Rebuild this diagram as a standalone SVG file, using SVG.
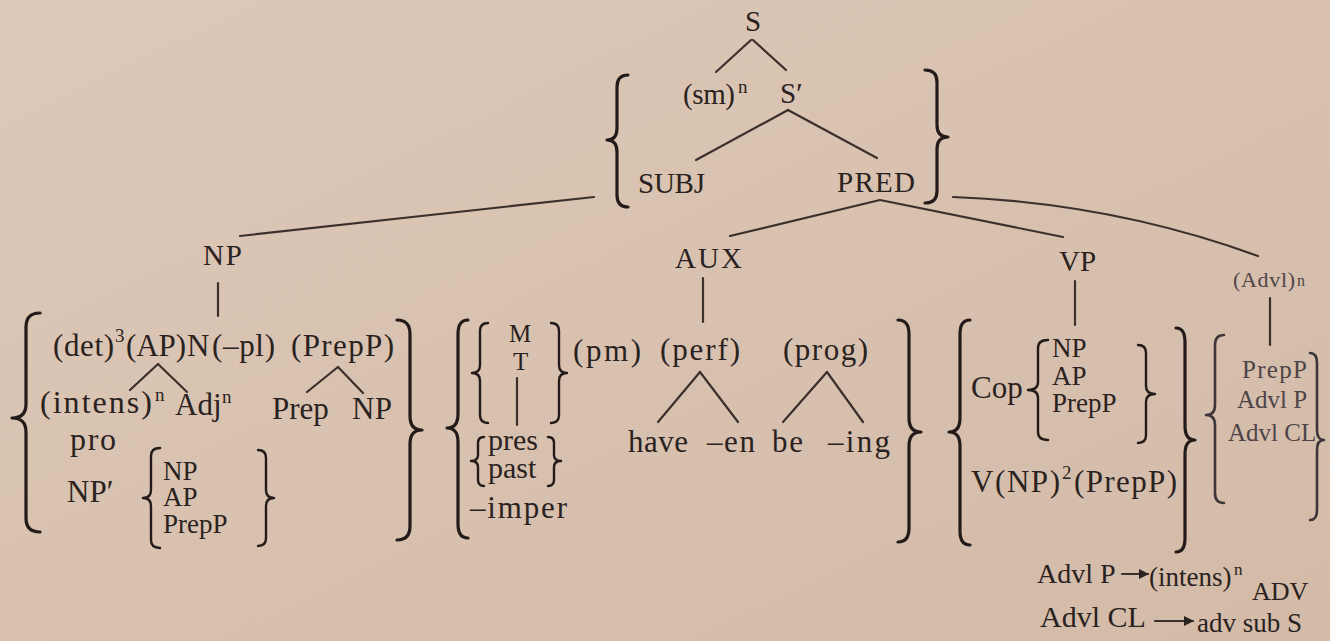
<svg xmlns="http://www.w3.org/2000/svg" width="1330" height="641" viewBox="0 0 1330 641" font-family="'Liberation Serif', 'Times New Roman', 'DejaVu Serif', serif">
<defs>
<linearGradient id="paper" x1="0" y1="0" x2="1" y2="1">
<stop offset="0" stop-color="#ddc9b9"/>
<stop offset="0.5" stop-color="#d8c1af"/>
<stop offset="1" stop-color="#d3bba8"/>
</linearGradient>
<marker id="arr" viewBox="0 0 10 10" refX="9" refY="5" markerWidth="10" markerHeight="10" markerUnits="userSpaceOnUse" orient="auto">
<path d="M0,0 L10,5 L0,10 z" fill="#2a2220"/>
</marker>
<style>
text{font-family:'Liberation Serif','Times New Roman','DejaVu Serif',serif;fill:#2a2220;font-size:31px}
.lab{font-size:29px}
.sup{font-size:19px}
.sm{font-size:25px}
.stk{font-size:27px}
.adv{font-size:25px;fill:#4e4448}
.rule{font-size:28px}
.ln{stroke:#3b302c;stroke-width:2.2;fill:none;stroke-linecap:round}
.br{stroke:#231b19;stroke-width:3.2;fill:none;stroke-linecap:round;stroke-linejoin:round}
.brs{stroke:#231b19;stroke-width:2.4;fill:none;stroke-linecap:round;stroke-linejoin:round}
.bra{stroke:#3e3538;stroke-width:2.6;fill:none;stroke-linecap:round;stroke-linejoin:round}
</style>
</defs>
<rect x="0" y="0" width="1330" height="641" fill="url(#paper)"/>

<g id="connectors">
<line class="ln" x1="751" y1="40" x2="716" y2="72"/>
<line class="ln" x1="753" y1="40" x2="786" y2="70"/>
<line class="ln" x1="788" y1="110" x2="696" y2="160"/>
<line class="ln" x1="788" y1="110" x2="877" y2="158"/>
<line class="ln" x1="594" y1="197" x2="240" y2="236"/>
<line class="ln" x1="880" y1="200" x2="730" y2="236"/>
<line class="ln" x1="880" y1="200" x2="1063" y2="237"/>
<path class="ln" d="M953,197 Q1113,203 1258,256"/>
<line class="ln" x1="218" y1="283" x2="218" y2="316"/>
<line class="ln" x1="703" y1="278" x2="703" y2="322"/>
<line class="ln" x1="1075" y1="281" x2="1075" y2="325"/>
<line class="ln" x1="1270" y1="298" x2="1270" y2="345" stroke="#5a5054"/>
<line class="ln" x1="158" y1="364" x2="130" y2="390"/>
<line class="ln" x1="158" y1="364" x2="187" y2="392"/>
<line class="ln" x1="338" y1="367" x2="307" y2="392"/>
<line class="ln" x1="338" y1="367" x2="363" y2="393"/>
<line class="ln" x1="517" y1="378" x2="517" y2="425"/>
<line class="ln" x1="700" y1="372" x2="658" y2="422"/>
<line class="ln" x1="700" y1="372" x2="738" y2="422"/>
<line class="ln" x1="827" y1="372" x2="783" y2="422"/>
<line class="ln" x1="827" y1="372" x2="863" y2="422"/>
<line class="ln" x1="1122" y1="574" x2="1148" y2="574" marker-end="url(#arr)"/>
<line class="ln" x1="1155" y1="621" x2="1193" y2="621" marker-end="url(#arr)"/>
</g>

<g id="node-S"><text class="lab" x="745" y="31">S</text></g>
<g id="node-sm"><text class="lab" x="683" y="104" textLength="52" lengthAdjust="spacing">(sm)</text><text class="sup" x="738" y="93">n</text></g>
<g id="node-Sprime"><text class="lab" x="780" y="103">S′</text></g>
<g id="node-SUBJ-PRED">
<path class="br" d="M628,75 Q617,75 617,87 L617,128 Q617,140 607,140 Q617,140 617,152 L617,195 Q617,207 628,207"/>
<path class="br" d="M925,70 Q937,70 937,82 L937,125 Q937,137 948,137 Q937,137 937,149 L937,191 Q937,203 925,203"/>
<text class="lab" x="638" y="193" textLength="67" lengthAdjust="spacing">SUBJ</text>
<text class="lab" x="837" y="192" textLength="78" lengthAdjust="spacing">PRED</text>
</g>

<g id="node-NP-label"><text class="lab" x="203" y="265" textLength="39" lengthAdjust="spacing">NP</text></g>
<g id="node-AUX-label"><text class="lab" x="675" y="268" textLength="67" lengthAdjust="spacing">AUX</text></g>
<g id="node-VP-label"><text class="lab" x="1059" y="271">VP</text></g>
<g id="node-Advl-label"><text class="adv" x="1233" y="287" style="font-size:22px" textLength="62" lengthAdjust="spacing">(Advl)</text><text class="adv" x="1297" y="286" style="font-size:16px">n</text></g>

<g id="node-NP">
<path class="br" d="M40,313 Q26,313 26,327 L26,404 Q26,418 12,418 Q26,418 26,432 L26,518 Q26,532 40,532"/>
<path class="br" d="M397,320 Q410,320 410,334 L410,416 Q410,430 422,430 Q410,430 410,444 L410,526 Q410,540 397,540"/>
<text x="53" y="356" textLength="61" lengthAdjust="spacing">(det)</text><text class="sup" x="115" y="342">3</text>
<text x="126" y="356" textLength="60" lengthAdjust="spacing">(AP)</text>
<text x="187" y="356">N</text>
<text x="212" y="356" textLength="63" lengthAdjust="spacing">(–pl)</text>
<text x="291" y="356" textLength="103" lengthAdjust="spacing">(PrepP)</text>
<text x="40" y="413" style="font-size:32px" textLength="112" lengthAdjust="spacing">(intens)</text><text class="sup" x="155" y="401">n</text>
<text x="175" y="415">Adj</text><text class="sup" x="222" y="403">n</text>
<text x="272" y="419">Prep</text>
<text x="352" y="419" textLength="40" lengthAdjust="spacing">NP</text>
<text x="70" y="450" style="font-size:32px" textLength="46" lengthAdjust="spacing">pro</text>
<text x="67" y="502">NP′</text>
<path class="brs" d="M160,448 Q151,448 151,456 L151,490 Q151,498 143,498 Q151,498 151,506 L151,540 Q151,548 160,548"/>
<path class="brs" d="M258,450 Q266,450 266,458 L266,490 Q266,498 274,498 Q266,498 266,506 L266,538 Q266,546 258,546"/>
<text class="stk" x="163" y="480">NP</text>
<text class="stk" x="163" y="506">AP</text>
<text class="stk" x="163" y="533">PrepP</text>
</g>

<g id="node-AUX">
<path class="br" d="M468,320 Q458,320 458,334 L458,414 Q458,428 447,428 Q458,428 458,442 L458,524 Q458,538 468,538"/>
<path class="br" d="M898,320 Q909,320 909,334 L909,418 Q909,432 921,432 Q909,432 909,446 L909,528 Q909,542 898,542"/>
<path class="brs" d="M488,323 Q480,323 480,331 L480,365 Q480,373 472,373 Q480,373 480,381 L480,415 Q480,423 488,423"/>
<path class="brs" d="M551,323 Q559,323 559,331 L559,365 Q559,373 567,373 Q559,373 559,381 L559,415 Q559,423 551,423"/>
<text class="sm" x="509" y="342">M</text>
<text class="sm" x="513" y="370">T</text>
<text x="573" y="361" textLength="68" lengthAdjust="spacing">(pm)</text>
<text x="660" y="360" textLength="80" lengthAdjust="spacing">(perf)</text>
<text x="783" y="360" textLength="85" lengthAdjust="spacing">(prog)</text>
<text x="628" y="452" textLength="60" lengthAdjust="spacing">have</text>
<text x="707" y="452" textLength="48" lengthAdjust="spacing">–en</text>
<text x="772" y="452" textLength="31" lengthAdjust="spacing">be</text>
<text x="828" y="452" textLength="62" lengthAdjust="spacing">–ing</text>
<path class="brs" d="M484,437 Q478,437 478,443 L478,455 Q478,461 471,461 Q478,461 478,467 L478,480 Q478,486 484,486"/>
<path class="brs" d="M548,437 Q554,437 554,443 L554,455 Q554,461 561,461 Q554,461 554,467 L554,480 Q554,486 548,486"/>
<text x="488" y="450" style="font-size:30px">pres</text>
<text x="488" y="478" style="font-size:30px">past</text>
<text x="470" y="518" textLength="97" lengthAdjust="spacing">–imper</text>
</g>

<g id="node-VP">
<path class="br" d="M970,320 Q960,320 960,334 L960,418 Q960,432 949,432 Q960,432 960,446 L960,531 Q960,545 970,545"/>
<path class="br" d="M1176,328 Q1185,328 1185,342 L1185,426 Q1185,440 1195,440 Q1185,440 1185,454 L1185,538 Q1185,552 1176,552"/>
<text x="971" y="398">Cop</text>
<path class="brs" d="M1048,340 Q1038,340 1038,348 L1038,382 Q1038,390 1028,390 Q1038,390 1038,398 L1038,432 Q1038,440 1048,440"/>
<path class="brs" d="M1138,345 Q1146,345 1146,353 L1146,386 Q1146,394 1155,394 Q1146,394 1146,402 L1146,435 Q1146,443 1138,443"/>
<text class="stk" x="1052" y="357">NP</text>
<text class="stk" x="1052" y="385">AP</text>
<text class="stk" x="1052" y="412">PrepP</text>
<text x="971" y="492" textLength="89" lengthAdjust="spacing">V(NP)</text><text class="sup" x="1062" y="479">2</text>
<text x="1074" y="492" textLength="103" lengthAdjust="spacing">(PrepP)</text>
</g>

<g id="node-Advl">
<path class="bra" d="M1224,335 Q1215,335 1215,345 L1215,405 Q1215,415 1206,415 Q1215,415 1215,425 L1215,493 Q1215,503 1224,503"/>
<path class="bra" d="M1310,353 Q1317,353 1317,363 L1317,430 Q1317,440 1324,440 Q1317,440 1317,450 L1317,510 Q1317,520 1310,520"/>
<text class="adv" x="1242" y="378" textLength="65" lengthAdjust="spacing">PrepP</text>
<text class="adv" x="1237" y="408">Advl P</text>
<text class="adv" x="1228" y="441">Advl CL</text>
</g>

<g id="rule-AdvlP">
<text class="rule" x="1037" y="583">Advl P</text>
<text class="rule" x="1149" y="586" style="font-size:27px">(intens)</text>
<text class="sup" x="1234" y="575" style="font-size:17px">n</text>
<text class="rule" x="1252" y="600" style="font-size:26px">ADV</text>
</g>
<g id="rule-AdvlCL">
<text class="rule" x="1040" y="627" style="font-size:30px">Advl CL</text>
<text class="rule" x="1197" y="632" style="font-size:27px">adv sub S</text>
</g>
</svg>
